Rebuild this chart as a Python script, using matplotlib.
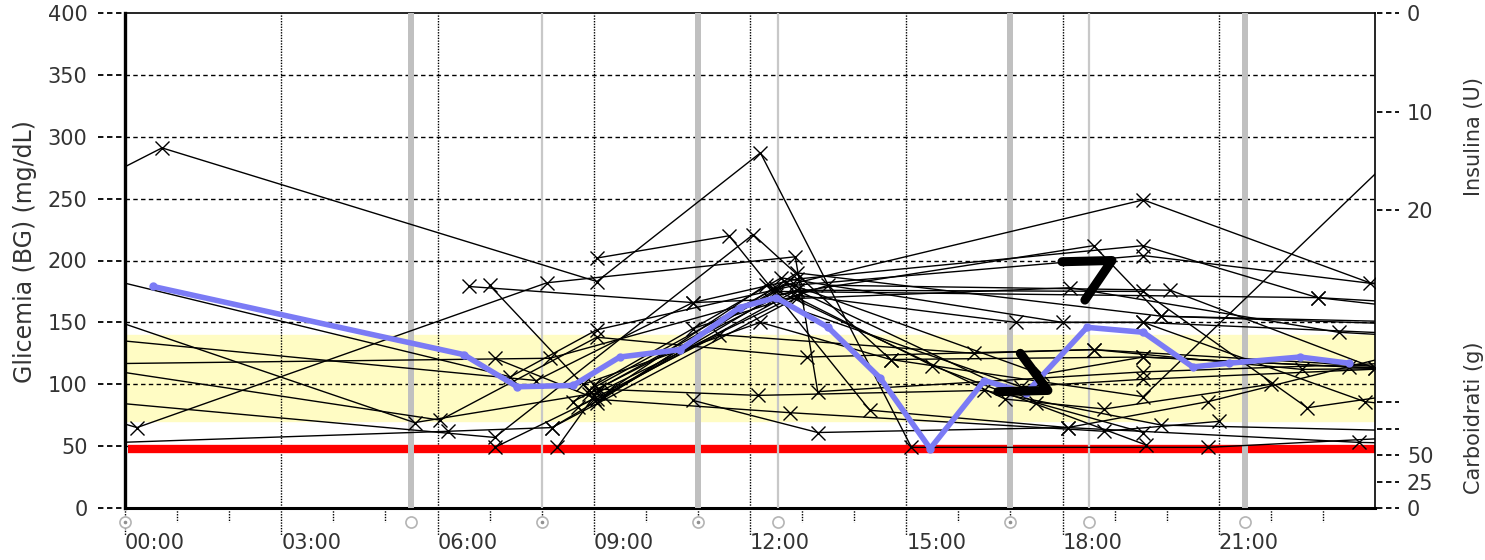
import matplotlib
matplotlib.use("Agg")
import matplotlib.pyplot as plt
import matplotlib.transforms as mtransforms

plt.rcParams['font.family'] = ['DejaVu Sans']

# target range and hypo threshold (mg/dL)
target_low = 70
target_high = 140
hypo_level = 48

# one list of (hour, mg/dL) readings per day; hours outside 0-24 are the
# neighbouring day's readings, they only give the line its slope at the edges
day01 = [(-1.2, 250), (0.71, 291), (9.06, 183), (12.2, 287), (15.1, 49), (20.8, 49), (25.0, 58)]
day02 = [(-1.5, 197), (7.4, 106), (9.06, 144), (12.87, 180), (19.55, 204), (25.0, 176)]
day03 = [(-1.0, 163), (5.56, 69), (9.06, 93), (12.9, 172), (17.1, 150), (19.55, 150), (23.8, 86), (25.0, 80)]
day04 = [(-1.5, 141), (7.9, 103), (10.9, 166), (18.15, 178), (23.3, 142), (25.0, 138)]
day05 = [(-1.5, 116), (8.16, 121), (12.9, 176), (19.55, 175), (22.7, 81), (25.0, 95)]
day06 = [(-1.5, 119), (6.05, 71), (9.06, 138), (13.1, 122), (18.6, 128), (25.0, 112)]
day07 = [(-1.5, 90), (7.1, 57), (12.06, 221), (14.7, 120), (19.55, 122), (23.5, 114), (25.0, 113)]
day08 = [(-1.0, 80), (0.23, 65), (8.1, 182), (12.87, 203), (13.3, 94), (19.55, 110), (25.0, 118)]
day09 = [(-1.5, 51), (6.2, 62), (8.2, 65), (12.5, 172), (18.6, 212), (19.9, 155), (25.0, 150)]
day10 = [(6.6, 179), (10.9, 166), (12.9, 185), (19.55, 212), (22.9, 170), (25.0, 160)]
day11 = [(7.0, 180), (8.9, 95), (12.5, 178), (19.55, 249), (23.9, 182), (25.0, 178)]
day12 = [(9.06, 202), (11.6, 220), (14.3, 79), (18.1, 65), (23.7, 53), (25.0, 52)]
day13 = [(7.1, 49), (9.0, 88), (12.77, 77), (18.8, 62), (21.0, 70)]
day14 = [(8.3, 49), (9.1, 96), (12.15, 91), (16.5, 95), (19.9, 67), (25.0, 62)]
day15 = [(8.2, 65), (12.9, 170), (15.5, 115), (19.6, 51)]
day16 = [(7.1, 121), (9.06, 88), (12.9, 176), (17.5, 85), (19.55, 61)]
day17 = [(10.9, 87), (13.3, 61), (18.1, 65), (20.8, 86), (25.0, 130)]
day18 = [(8.8, 100), (12.2, 150), (14.7, 120), (19.55, 90), (24.5, 290)]
day19 = [(9.06, 85), (12.9, 190), (19.9, 155), (25.0, 148)]
day20 = [(8.9, 92), (12.5, 175), (22.9, 170), (25.0, 165)]
day21 = [(10.9, 145), (13.5, 180), (20.07, 176), (24.0, 113), (25.0, 113)]
day22 = [(9.2, 90), (12.7, 182), (17.6, 108), (19.55, 122), (24.0, 113)]
day23 = [(8.7, 82), (11.4, 140), (16.3, 125), (18.6, 128), (22.6, 112), (25.0, 113)]
day24 = [(9.0, 99), (12.6, 186), (18.0, 150), (19.55, 150), (25.0, 140)]
day25 = [(8.6, 86), (12.4, 168), (17.2, 98), (19.55, 104), (25.0, 114)]
day26 = [(9.3, 95), (12.3, 180), (16.9, 88), (18.8, 80), (22.0, 100)]
days = [day01, day02, day03, day04, day05, day06, day07, day08, day09, day10, day11, day12,
        day13, day14, day15, day16, day17, day18, day19, day20, day21, day22, day23, day24,
        day25, day26]

# hourly mean
mean_hours = [0.54, 6.5, 7.53, 8.6, 9.5, 10.66, 11.8, 12.5, 13.5, 14.5, 15.46, 16.5, 17.3,
              18.47, 19.55, 20.5, 21.2, 22.56, 23.5]
mean_bg = [179, 124, 98, 99, 122, 128, 162, 170, 146, 105, 48, 103, 93, 146, 142, 114, 117, 122, 117]

# trend marks
trend_up_hours = [17.99, 18.95, 18.43]
trend_up_bg = [199, 200, 168]
trend_down_hours = [17.19, 17.72, 16.76]
trend_down_bg = [125, 95, 94]

# meal / insulin events
event_thick_hours = [5.5, 11.0, 17.0, 21.5]
event_thin_hours = [8.0, 12.53, 18.5]
event_circle_hours = [0.0, 5.5, 8.0, 11.0, 12.53, 17.0, 18.5, 21.5]
event_dot_hours = [0.0, 8.0, 11.0, 17.0]

bg_ticks = [0, 50, 100, 150, 200, 250, 300, 350, 400]
insulin_ticks = [0, 10, 20]
carb_ticks = [0, 25, 50, 75, 100]
carb_labels = ["0", "25", "50", "", ""]
hour_labels = ["00:00", "03:00", "06:00", "09:00", "12:00", "15:00", "18:00", "21:00"]

W, H = 1485, 560
fig = plt.figure(figsize=(W / 100, H / 100), dpi=100)
ax = fig.add_axes([125 / W, 52 / H, 1250 / W, 495 / H])
ax.set_xlim(0, 24)
ax.set_ylim(0, 400)
ax.set_facecolor("white")

FS = 15
TXT = "#333333"
# target band and hypo line
ax.axhspan(target_low, target_high, color="#FFFCC4", zorder=0)
ax.plot([0.05, 24], [hypo_level, hypo_level], color="#FF0000", lw=6, solid_capstyle="butt", zorder=2)

# grids
for v in bg_ticks[1:-1]:
    ax.axhline(v, color="black", lw=1, dashes=(3.2, 2.4), zorder=1)
for h in range(3, 24, 3):
    ax.axvline(h, color="black", lw=1, dashes=(1, 1), zorder=1)

# event lines
for h in event_thick_hours:
    ax.axvline(h, color="#C0C0C0", lw=4.3, zorder=3)
for h in event_thin_hours:
    ax.axvline(h, color="#C8C8C8", lw=1.6, zorder=3)

# daily readings
for d in days:
    hrs = [p[0] for p in d]
    vals = [p[1] for p in d]
    ax.plot(hrs, vals, color="black", lw=1.0, marker="x", ms=10, mew=1.0, zorder=4)

# mean line
ax.plot(mean_hours, mean_bg, color="#7B7BF5", lw=4, marker="o", ms=5, zorder=5,
        solid_joinstyle="round", solid_capstyle="round")

# trend marks
for th, tv in ((trend_up_hours, trend_up_bg), (trend_down_hours, trend_down_bg)):
    ax.plot(th, tv, color="black", lw=6.5, solid_capstyle="round", solid_joinstyle="round", zorder=6)

# spines
for side in ("top", "right"):
    ax.spines[side].set_linewidth(1.2)
ax.spines["left"].set_linewidth(2.4)
ax.spines["bottom"].set_linewidth(2.2)

# left ticks: dashed stubs outside the axis
ax.set_yticks(bg_ticks)
ax.set_yticklabels([str(v) for v in bg_ticks], fontsize=FS, color=TXT)
ax.tick_params(axis="y", length=0, pad=27)
ytr = mtransforms.blended_transform_factory(ax.transAxes, ax.transData)
for v in bg_ticks:
    ax.plot([-27 / 1250, -2 / 1250], [v, v], transform=ytr, color="black", lw=1.3,
            dashes=(3, 2), clip_on=False, zorder=1)

# bottom ticks
ax.set_xticks(range(0, 24, 3))
ax.set_xticklabels(hour_labels, fontsize=FS, ha="left", color=TXT)
ax.tick_params(axis="x", length=0, pad=18)
xtr = mtransforms.blended_transform_factory(ax.transData, ax.transAxes)
for h in range(0, 24):
    depth = 27 if h % 3 == 0 else 14
    ax.plot([h, h], [0, -depth / 495], transform=xtr, color="black", lw=1,
            dashes=(1, 1), clip_on=False, zorder=1)
ax.plot(event_circle_hours, [-14 / 495] * len(event_circle_hours), transform=xtr, ls="none",
        marker="o", ms=8, mfc="white", mec="#B4B4B4", mew=1.2, clip_on=False)
ax.plot(event_dot_hours, [-14 / 495] * len(event_dot_hours), transform=xtr, ls="none",
        marker="o", ms=1.6, color="#909090", clip_on=False)

# right: insulin (top down) and carbs (bottom up)
ax_ins = ax.twinx()
ax_ins.set_ylim(50.15, 0)
ax_ins.set_yticks(insulin_ticks)
ax_ins.set_yticklabels([str(v) for v in insulin_ticks], fontsize=FS, color=TXT)
ax_ins.tick_params(axis="y", length=0, pad=23)
ax_carb = ax.twinx()
ax_carb.set_ylim(0, 467)
ax_carb.set_yticks(carb_ticks)
ax_carb.set_yticklabels(carb_labels, fontsize=FS, color=TXT)
ax_carb.tick_params(axis="y", length=0, pad=23)
for a, ticks in ((ax_ins, insulin_ticks), (ax_carb, carb_ticks)):
    for s in a.spines.values():
        s.set_visible(False)
    tr = mtransforms.blended_transform_factory(a.transAxes, a.transData)
    for v in ticks:
        a.plot([1 + 2 / 1250, 1 + 24 / 1250], [v, v], transform=tr, color="black", lw=1.3,
               dashes=(3, 2), clip_on=False)

fig.text(25 / W, 1 - 252 / H, "Glicemia (BG) (mg/dL)", rotation=90, ha="center", va="center",
         fontsize=17, color=TXT)
fig.text(1474 / W, 1 - 137 / H, "Insulina (U)", rotation=90, ha="center", va="center",
         fontsize=FS, color=TXT)
fig.text(1474 / W, 1 - 418 / H, "Carboidrati (g)", rotation=90, ha="center", va="center",
         fontsize=FS, color=TXT)

fig.savefig("out.png", dpi=100, facecolor="white")
plt.close(fig)
